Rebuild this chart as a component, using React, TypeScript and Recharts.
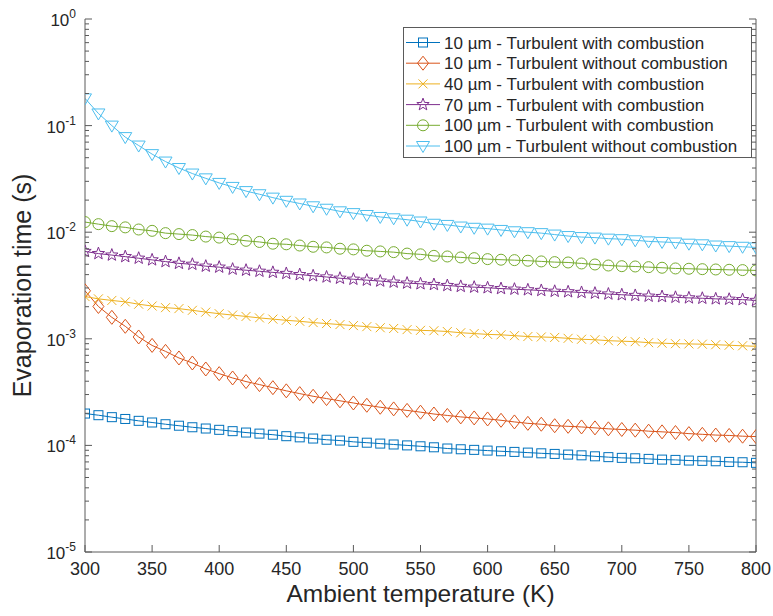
import { LineChart, Line, XAxis, YAxis, Legend } from 'recharts';

const tempK = [
  300, 310, 320, 330, 340, 350, 360, 370, 380, 390, 400, 410, 420, 430, 440, 450, 460,
  470, 480, 490, 500, 510, 520, 530, 540, 550, 560, 570, 580, 590, 600, 610, 620, 630,
  640, 650, 660, 670, 680, 690, 700, 710, 720, 730, 740, 750, 760, 770, 780, 790, 800,
];

// evaporation time (s)
const d10Comb = [
  1.99e-4, 1.92e-4, 1.84e-4, 1.77e-4, 1.7e-4, 1.64e-4, 1.58e-4, 1.53e-4, 1.48e-4, 1.44e-4,
  1.4e-4, 1.36e-4, 1.32e-4, 1.29e-4, 1.26e-4, 1.22e-4, 1.19e-4, 1.16e-4, 1.13e-4, 1.11e-4,
  1.08e-4, 1.06e-4, 1.04e-4, 1.02e-4, 1.0e-4, 9.81e-5, 9.6e-5, 9.35e-5, 9.2e-5, 9.08e-5,
  8.94e-5, 8.81e-5, 8.69e-5, 8.56e-5, 8.43e-5, 8.32e-5, 8.2e-5, 8.07e-5, 7.9e-5, 7.76e-5,
  7.64e-5, 7.57e-5, 7.47e-5, 7.36e-5, 7.31e-5, 7.21e-5, 7.16e-5, 7.1e-5, 7.0e-5, 6.95e-5,
  6.86e-5,
];
const d10NoComb = [
  2.82e-3, 2.01e-3, 1.59e-3, 1.31e-3, 1.04e-3, 8.67e-4, 7.62e-4, 6.61e-4, 5.93e-4, 5.21e-4,
  4.71e-4, 4.29e-4, 3.97e-4, 3.72e-4, 3.48e-4, 3.25e-4, 3.06e-4, 2.89e-4, 2.75e-4, 2.62e-4,
  2.5e-4, 2.38e-4, 2.28e-4, 2.2e-4, 2.13e-4, 2.05e-4, 1.97e-4, 1.91e-4, 1.85e-4, 1.81e-4,
  1.77e-4, 1.72e-4, 1.66e-4, 1.61e-4, 1.58e-4, 1.53e-4, 1.51e-4, 1.49e-4, 1.46e-4, 1.43e-4,
  1.41e-4, 1.39e-4, 1.36e-4, 1.34e-4, 1.32e-4, 1.29e-4, 1.27e-4, 1.25e-4, 1.24e-4, 1.22e-4,
  1.21e-4,
];
const d40Comb = [
  2.49e-3, 2.37e-3, 2.29e-3, 2.22e-3, 2.11e-3, 2.03e-3, 1.96e-3, 1.92e-3, 1.85e-3, 1.78e-3,
  1.72e-3, 1.67e-3, 1.62e-3, 1.57e-3, 1.53e-3, 1.49e-3, 1.46e-3, 1.42e-3, 1.39e-3, 1.36e-3,
  1.33e-3, 1.3e-3, 1.27e-3, 1.25e-3, 1.22e-3, 1.2e-3, 1.19e-3, 1.17e-3, 1.14e-3, 1.12e-3,
  1.1e-3, 1.09e-3, 1.07e-3, 1.05e-3, 1.04e-3, 1.03e-3, 1.01e-3, 9.9e-4, 9.8e-4, 9.6e-4,
  9.5e-4, 9.4e-4, 9.2e-4, 9.1e-4, 9.0e-4, 8.95e-4, 8.9e-4, 8.8e-4, 8.7e-4, 8.6e-4,
  8.5e-4,
];
const d70Comb = [
  6.6e-3, 6.3e-3, 6.1e-3, 5.9e-3, 5.7e-3, 5.5e-3, 5.3e-3, 5.1e-3, 5.0e-3, 4.8e-3,
  4.7e-3, 4.5e-3, 4.4e-3, 4.3e-3, 4.2e-3, 4.1e-3, 4.0e-3, 3.9e-3, 3.8e-3, 3.7e-3,
  3.62e-3, 3.55e-3, 3.48e-3, 3.4e-3, 3.33e-3, 3.28e-3, 3.23e-3, 3.16e-3, 3.1e-3, 3.05e-3,
  3.01e-3, 2.96e-3, 2.92e-3, 2.88e-3, 2.84e-3, 2.79e-3, 2.76e-3, 2.72e-3, 2.68e-3, 2.63e-3,
  2.59e-3, 2.55e-3, 2.51e-3, 2.49e-3, 2.45e-3, 2.42e-3, 2.4e-3, 2.37e-3, 2.35e-3, 2.33e-3,
  2.29e-3,
];
const d100Comb = [
  1.245e-2, 1.19e-2, 1.14e-2, 1.11e-2, 1.06e-2, 1.03e-2, 9.8e-3, 9.6e-3, 9.4e-3, 9.1e-3,
  8.9e-3, 8.6e-3, 8.3e-3, 8.1e-3, 7.8e-3, 7.7e-3, 7.5e-3, 7.3e-3, 7.2e-3, 7.0e-3,
  6.9e-3, 6.7e-3, 6.6e-3, 6.5e-3, 6.3e-3, 6.2e-3, 6.0e-3, 5.92e-3, 5.8e-3, 5.71e-3,
  5.59e-3, 5.52e-3, 5.47e-3, 5.4e-3, 5.32e-3, 5.24e-3, 5.2e-3, 5.09e-3, 4.98e-3, 4.87e-3,
  4.8e-3, 4.77e-3, 4.7e-3, 4.64e-3, 4.57e-3, 4.54e-3, 4.5e-3, 4.47e-3, 4.44e-3, 4.41e-3,
  4.38e-3,
];
const d100NoComb = [
  0.18, 0.13, 0.1, 0.078, 0.065, 0.054, 0.046, 0.04, 0.0355, 0.032,
  0.029, 0.0266, 0.0243, 0.0227, 0.0211, 0.0197, 0.0186, 0.0175, 0.0166, 0.0157,
  0.0151, 0.0145, 0.0139, 0.0135, 0.0131, 0.0126, 0.012, 0.0117, 0.0113, 0.011,
  0.0108, 0.0105, 0.0102, 0.01, 0.0098, 0.0095, 0.0092, 0.009, 0.0089, 0.0087,
  0.0086, 0.0084, 0.0082, 0.0081, 0.008, 0.0078, 0.0077, 0.0075, 0.0074, 0.0073,
  0.0072,
];

const xTicks = [300, 350, 400, 450, 500, 550, 600, 650, 700, 750, 800];
const yDecades = [1e-5, 1e-4, 1e-3, 1e-2, 1e-1, 1];
const yMinorSteps = [2, 3, 4, 5, 6, 7, 8, 9];

const seriesNames = [
  '10 µm - Turbulent with combustion',
  '10 µm - Turbulent without combustion',
  '40 µm - Turbulent with combustion',
  '70 µm - Turbulent with combustion',
  '100 µm - Turbulent with combustion',
  '100 µm - Turbulent without combustion',
];

const series = [
  { key: 's1', name: seriesNames[0], values: d10Comb, color: '#0072BD', shape: 'square' },
  { key: 's2', name: seriesNames[1], values: d10NoComb, color: '#D95319', shape: 'diamond' },
  { key: 's3', name: seriesNames[2], values: d40Comb, color: '#EDB120', shape: 'x' },
  { key: 's4', name: seriesNames[3], values: d70Comb, color: '#7E2F8E', shape: 'star' },
  { key: 's5', name: seriesNames[4], values: d100Comb, color: '#77AC30', shape: 'circle' },
  { key: 's6', name: seriesNames[5], values: d100NoComb, color: '#4DBEEE', shape: 'triangle' },
];

const data = tempK.map((t, i) => {
  const row: Record<string, number> = { t };
  series.forEach((s) => {
    row[s.key] = s.values[i];
  });
  return row;
});

const yTicks: number[] = [];
yDecades.forEach((d, i) => {
  yTicks.push(d);
  if (i < yDecades.length - 1) yMinorSteps.forEach((m) => yTicks.push(d * m));
});

const FONT = '"Liberation Sans", Arial, Helvetica, sans-serif';
const AXIS = '#5a5a5a';
const TEXT = '#262626';
const MARGIN = 6;
const MAJOR = 7;
const MINOR = 4;

function isDecade(v: number) {
  const l = Math.log10(v);
  return Math.abs(l - Math.round(l)) < 1e-6;
}

function Marker({ cx, cy, shape, color }: { cx: number; cy: number; shape: string; color: string }) {
  const common = { fill: 'none', stroke: color, strokeWidth: 1 };
  if (shape === 'square') return <rect x={cx - 4.5} y={cy - 4.5} width={9} height={9} {...common} />;
  if (shape === 'diamond')
    return <polygon points={`${cx},${cy - 7} ${cx + 5.5},${cy} ${cx},${cy + 7} ${cx - 5.5},${cy}`} {...common} />;
  if (shape === 'circle') return <circle cx={cx} cy={cy} r={5.5} {...common} />;
  if (shape === 'triangle')
    return <polygon points={`${cx - 6.5},${cy - 4.5} ${cx + 6.5},${cy - 4.5} ${cx},${cy + 6.5}`} {...common} />;
  if (shape === 'x')
    return (
      <g {...common}>
        <line x1={cx - 4.5} y1={cy - 4.5} x2={cx + 4.5} y2={cy + 4.5} />
        <line x1={cx - 4.5} y1={cy + 4.5} x2={cx + 4.5} y2={cy - 4.5} />
      </g>
    );
  // star
  const pts: string[] = [];
  for (let k = 0; k < 10; k++) {
    const r = k % 2 === 0 ? 6.5 : 2.7;
    const a = -Math.PI / 2 + (k * Math.PI) / 5;
    pts.push(`${cx + r * Math.cos(a)},${cy + r * Math.sin(a)}`);
  }
  return <polygon points={pts.join(' ')} {...common} />;
}

function LeftTick(props: any) {
  const { x, y, payload } = props;
  const v = payload.value;
  const ax = x + MARGIN;
  const major = isDecade(v);
  const exp = Math.round(Math.log10(v));
  return (
    <g>
      <line x1={ax} x2={ax + (major ? MAJOR : MINOR)} y1={y} y2={y} stroke={AXIS} />
      {major && (
        <text x={ax - 9} y={y + 7} textAnchor="end" fill={TEXT} fontSize={17} fontFamily={FONT}>
          10
          <tspan dy={-8} fontSize={12}>
            {exp}
          </tspan>
        </text>
      )}
    </g>
  );
}

function RightTick(props: any) {
  const { x, y, payload } = props;
  const ax = x - MARGIN;
  const major = isDecade(payload.value);
  return <line x1={ax} x2={ax - (major ? MAJOR : MINOR)} y1={y} y2={y} stroke={AXIS} />;
}

function BottomTick(props: any) {
  const { x, y, payload } = props;
  const ay = y - MARGIN;
  return (
    <g>
      <line x1={x} x2={x} y1={ay} y2={ay - MAJOR} stroke={AXIS} />
      <text x={x} y={ay + 23} textAnchor="middle" fill={TEXT} fontSize={18} fontFamily={FONT}>
        {payload.value}
      </text>
    </g>
  );
}

function TopTick(props: any) {
  const { x, y } = props;
  const ay = y + MARGIN;
  return <line x1={x} x2={x} y1={ay} y2={ay + MAJOR} stroke={AXIS} />;
}

function LegendBox() {
  const rowH = 20.7;
  return (
    <svg width={350} height={132} style={{ display: 'block' }}>
      <rect x={0.5} y={0.5} width={348} height={130} fill="#fff" stroke={AXIS} />
      {series.map((s, i) => {
        const cy = 15.5 + i * rowH;
        return (
          <g key={s.key}>
            <line x1={3} x2={37} y1={cy} y2={cy} stroke={s.color} />
            <Marker cx={20} cy={cy} shape={s.shape} color={s.color} />
            <text x={41} y={cy + 6} fontSize={17} fontFamily={FONT} fill={TEXT}>
              {s.name}
            </text>
          </g>
        );
      })}
    </svg>
  );
}

export default function App() {
  return (
    <div style={{ position: 'absolute', left: 0, top: 0, width: 773, height: 616, background: '#fff' }}>
      <LineChart
        width={773}
        height={616}
        data={data}
        margin={{ top: 19, right: 7, bottom: 14, left: 25 }}
      >
        <XAxis
          dataKey="t"
          type="number"
          domain={[300, 800]}
          ticks={xTicks}
          interval={0}
          allowDataOverflow
          stroke={AXIS}
          tickLine={false}
          tickSize={0}
          tickMargin={MARGIN}
          height={50}
          tick={BottomTick}
          label={(p: any) => {
            const vb = p.viewBox;
            return (
              <text
                x={vb.x + vb.width / 2}
                y={vb.y + 50}
                textAnchor="middle"
                fontSize={24.5}
                fontFamily={FONT}
                fill={TEXT}
              >
                Ambient temperature (K)
              </text>
            );
          }}
        />
        <XAxis
          xAxisId="top"
          orientation="top"
          dataKey="t"
          type="number"
          domain={[300, 800]}
          ticks={xTicks}
          interval={0}
          allowDataOverflow
          stroke={AXIS}
          tickLine={false}
          tickSize={0}
          tickMargin={MARGIN}
          height={0}
          tick={TopTick}
        />
        <YAxis
          yAxisId="left"
          scale="log"
          type="number"
          domain={[1e-5, 1]}
          ticks={yTicks}
          interval={0}
          allowDataOverflow
          stroke={AXIS}
          tickLine={false}
          tickSize={0}
          tickMargin={MARGIN}
          width={60}
          tick={LeftTick}
          label={(p: any) => {
            const vb = p.viewBox;
            const cy = vb.y + vb.height / 2;
            return (
              <text
                x={22}
                y={cy}
                transform={`rotate(-90 22 ${cy})`}
                textAnchor="middle"
                dominantBaseline="central"
                fontSize={25}
                fontFamily={FONT}
                fill={TEXT}
              >
                Evaporation time (s)
              </text>
            );
          }}
        />
        <YAxis
          yAxisId="right"
          orientation="right"
          scale="log"
          type="number"
          domain={[1e-5, 1]}
          ticks={yTicks}
          interval={0}
          allowDataOverflow
          stroke={AXIS}
          tickLine={false}
          tickSize={0}
          tickMargin={MARGIN}
          width={10}
          tick={RightTick}
        />
        {series.map((s) => (
          <Line
            key={s.key}
            yAxisId="left"
            dataKey={s.key}
            name={s.name}
            type="linear"
            stroke={s.color}
            strokeWidth={1}
            isAnimationActive={false}
            dot={(p: any) => <Marker key={p.index} cx={p.cx} cy={p.cy} shape={s.shape} color={s.color} />}
            activeDot={false}
          />
        ))}
        <Legend
          layout="vertical"
          align="center"
          verticalAlign="middle"
          wrapperStyle={{ left: 403, top: 27, width: 350 }}
          content={() => <LegendBox />}
        />
      </LineChart>
    </div>
  );
}
